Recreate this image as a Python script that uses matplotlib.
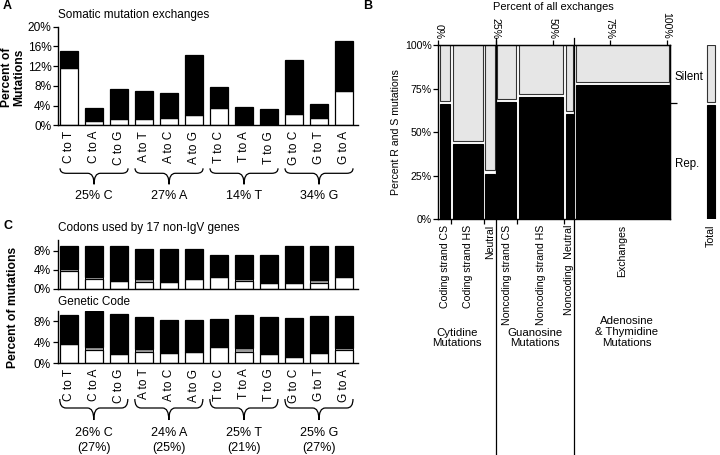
import matplotlib
matplotlib.use('Agg')
import matplotlib.pyplot as plt
import numpy as np
from matplotlib.path import Path
from matplotlib.patches import PathPatch
from matplotlib.transforms import blended_transform_factory

plt.rcParams['font.family'] = ['Liberation Sans', 'DejaVu Sans']

# ---------------- data ----------------
exchanges = ['C to T', 'C to A', 'C to G', 'A to T', 'A to C', 'A to G',
             'T to C', 'T to A', 'T to G', 'G to C', 'G to T', 'G to A']

# Panel A: somatic mutation exchanges (% of mutations)
somatic_total = [15.1, 3.5, 7.3, 6.9, 6.5, 14.3, 7.8, 3.65, 3.4, 13.2, 4.3, 17.2]
somatic_silent = [11.6, 0.9, 1.3, 1.3, 1.5, 2.0, 3.6, 0.3, 0.3, 2.2, 1.5, 7.0]
somatic_groups = ['25% C', '27% A', '14% T', '34% G']
a_yticks = [0, 4, 8, 12, 16, 20]

# Panel C: codons used by 17 non-IgV genes
codon_total = [9.0, 9.0, 9.0, 8.3, 8.3, 8.3, 7.0, 7.0, 7.0, 9.0, 9.0, 9.0]
codon_silent = [3.6, 2.1, 1.6, 1.4, 1.4, 2.0, 2.4, 1.6, 1.2, 1.2, 1.2, 2.4]
codon_gray = [0.6, 0.4, 0.0, 0.6, 0.0, 0.0, 0.0, 0.3, 0.0, 0.0, 0.6, 0.0]

# Panel C: genetic code
gc_total = [9.2, 10.0, 9.4, 8.9, 8.3, 8.3, 8.4, 9.2, 8.9, 8.7, 9.1, 9.1]
gc_silent = [3.6, 2.5, 1.8, 2.1, 1.9, 2.2, 3.0, 2.2, 1.8, 1.2, 1.9, 2.5]
gc_gray = [0.0, 0.6, 0.0, 0.5, 0.0, 0.0, 0.0, 0.6, 0.0, 0.0, 0.0, 0.4]
c_groups = ['26% C\n(27%)', '24% A\n(25%)', '25% T\n(21%)', '25% G\n(27%)']
c_yticks = [0, 4, 8]

# Panel B: mosaic of R and S mutations
b_categories = ['Coding strand CS', 'Coding strand HS', 'Neutral',
                'Noncoding strand CS', 'Noncoding strand HS', 'Noncoding  Neutral',
                'Exchanges']
b_widths = [5.6, 14.4, 5.2, 9.3, 20.7, 4.4, 41.9]
b_rep = [67, 44, 27, 68, 71, 61, 78]
b_group_sizes = [3, 3, 1]
b_groups = ['Cytidine\nMutations', 'Guanosine\nMutations',
            'Adenosine\n& Thymidine\nMutations']
b_xticks = [0, 25, 50, 75, 100]
b_yticks = [0, 25, 50, 75, 100]
total_rep = 66.5

# ---------------- figure ----------------
W, H = 720, 455
fig = plt.figure(figsize=(W / 100, H / 100), dpi=100)


def px_axes(x0, y0, x1, y1):
    return fig.add_axes([x0 / W, 1 - y1 / H, (x1 - x0) / W, (y1 - y0) / H])


def pct(v):
    return [f'{t}%' for t in v]


def brace(ax, x0, x1, yt, ym, yb, r=0.25):
    xc = (x0 + x1) / 2
    verts = [(x0, yt), (x0, ym), (x0 + r, ym), (xc - r, ym), (xc, ym), (xc, yb),
             (xc, ym), (xc + r, ym), (x1 - r, ym), (x1, ym), (x1, yt)]
    codes = [Path.MOVETO, Path.CURVE3, Path.CURVE3, Path.LINETO, Path.CURVE3,
             Path.CURVE3, Path.CURVE3, Path.CURVE3, Path.LINETO, Path.CURVE3,
             Path.CURVE3]
    tr = blended_transform_factory(ax.transData, ax.transAxes)
    ax.add_patch(PathPatch(Path(verts, codes), fill=False, lw=0.9,
                           transform=tr, clip_on=False))


x = np.arange(len(exchanges))
bw = 0.72
TS = 8.6

# ---------------- Panel A ----------------
axA = px_axes(58.3, 26.7, 358, 125.3)
st = np.array(somatic_total)
ss = np.array(somatic_silent)
axA.bar(x, ss, width=bw, color='white', edgecolor='black', lw=0.9)
axA.bar(x, st - ss, bottom=ss, width=bw, color='black', edgecolor='black', lw=0.9)
axA.set_xlim(-0.43, 11.56)
axA.set_ylim(0, 20)
axA.set_yticks(a_yticks, pct(a_yticks))
axA.set_xticks(x, exchanges)
axA.tick_params(axis='x', length=0, labelrotation=90, labelsize=TS, pad=4)
axA.tick_params(axis='y', length=3.5, width=0.9, labelsize=TS, pad=1.5)
for s in ['top', 'right']:
    axA.spines[s].set_visible(False)
for s in ['left', 'bottom']:
    axA.spines[s].set_linewidth(1.0)
hA = 98.6
trA = blended_transform_factory(axA.transData, axA.transAxes)
for g, lab in enumerate(somatic_groups):
    i0, i1 = 3 * g, 3 * g + 2
    brace(axA, i0 - bw / 2, i1 + bw / 2, -43 / hA, -48 / hA, -59 / hA)
    axA.text((i0 + i1) / 2, -71 / hA, lab, transform=trA, ha='center',
             va='center', fontsize=9)
axA.text(-0.43, 1.12, 'Somatic mutation exchanges', transform=trA,
         ha='left', va='center', fontsize=8.5)
fig.text(13 / W, 1 - 77 / H, 'Percent of\nMutations', rotation=90, ha='center',
         va='center', fontweight='bold', fontsize=8.7, linespacing=1.1)
fig.text(3 / W, 1 - 6 / H, 'A', fontweight='bold', fontsize=9, va='center')


# ---------------- Panel C ----------------
def stacked3(ax, total, silent, gray):
    t = np.array(total)
    s = np.array(silent)
    g = np.array(gray)
    ax.bar(x, s, width=bw, color='white', edgecolor='black', lw=0.9)
    ax.bar(x, g, bottom=s, width=bw, color='#9a9a9a', edgecolor='black', lw=0.7)
    ax.bar(x, t - s - g, bottom=s + g, width=bw, color='black',
           edgecolor='black', lw=0.9)
    ax.set_xlim(-0.43, 11.56)
    ax.set_yticks(c_yticks, pct(c_yticks))
    ax.tick_params(axis='y', length=3.5, width=0.9, labelsize=TS, pad=1.5)
    for sp in ['top', 'right']:
        ax.spines[sp].set_visible(False)
    for sp in ['left', 'bottom']:
        ax.spines[sp].set_linewidth(1.0)


axC1 = px_axes(58, 240, 358, 288.5)
stacked3(axC1, codon_total, codon_silent, codon_gray)
axC1.set_ylim(0, 48.5 / 4.75)
axC1.set_xticks([])
axC1.text(-0.43, 1 + 12 / 48.5, 'Codons used by 17 non-IgV genes',
          transform=blended_transform_factory(axC1.transData, axC1.transAxes),
          ha='left', va='center', fontsize=8.5)

axC2 = px_axes(58, 311, 358, 363)
stacked3(axC2, gc_total, gc_silent, gc_gray)
axC2.set_ylim(0, 52 / 5.2)
axC2.set_xticks(x, exchanges)
axC2.tick_params(axis='x', length=0, labelrotation=90, labelsize=TS, pad=4)
trC2 = blended_transform_factory(axC2.transData, axC2.transAxes)
axC2.text(-0.43, 1 + 9 / 52, 'Genetic Code', transform=trC2,
          ha='left', va='center', fontsize=8.5)
hC = 52.0
for g, lab in enumerate(c_groups):
    i0, i1 = 3 * g, 3 * g + 2
    brace(axC2, i0 - bw / 2, i1 + bw / 2, -36 / hC, -45 / hC, -57 / hC)
    axC2.text((i0 + i1) / 2, -77.5 / hC, lab, transform=trC2, ha='center',
              va='center', fontsize=9, linespacing=1.25)
fig.text(13 / W, 1 - 307 / H, 'Percent of mutations', rotation=90, ha='center',
         va='center', fontweight='bold', fontsize=8.7)
fig.text(3 / W, 1 - 226 / H, 'C', fontweight='bold', fontsize=9, va='center')

# ---------------- Panel B ----------------
BS = 7.6
axB = px_axes(438.5, 45, 670, 219)
widths = np.array(b_widths)
edges = np.concatenate([[0], np.cumsum(widths)])
lefts = edges[:-1]
centers = lefts + widths / 2
rep = np.array(b_rep, dtype=float)
gx, gy = 0.6, 0.9
axB.bar(lefts + gx, rep - gy, width=widths - 2 * gx, align='edge',
        color='black', edgecolor='black', lw=0.8)
axB.bar(lefts + gx, 100 - rep - gy, bottom=rep + gy, width=widths - 2 * gx,
        align='edge', color='#e6e6e6', edgecolor='#333333', lw=0.8)
axB.set_xlim(0, edges[-1])
axB.set_ylim(0, 100)
axB.set_yticks(b_yticks, pct(b_yticks))
axB.tick_params(axis='y', length=3.5, width=0.9, labelsize=BS, pad=1.5)
group_ends = np.cumsum(b_group_sizes)
inner = [edges[i] for i in range(1, len(widths)) if i not in group_ends]
axB.set_xticks(inner, [''] * len(inner))
axB.set_xticks(centers, b_categories, minor=True)
axB.tick_params(axis='x', which='major', length=3.5, width=0.9)
axB.tick_params(axis='x', which='minor', length=0, labelrotation=90,
                labelsize=BS, pad=4)
for sp in axB.spines.values():
    sp.set_linewidth(1.0)
trB = blended_transform_factory(axB.transData, axB.transAxes)
for gi in group_ends[:-1]:
    axB.plot([edges[gi], edges[gi]], [1.04, -1.36], color='black', lw=0.9,
             transform=trB, clip_on=False)
secx = axB.secondary_xaxis('top')
secx.set_xticks(b_xticks, pct(b_xticks))
secx.tick_params(length=3.5, width=0.9, labelrotation=-90, labelsize=BS, pad=1)
secy = axB.secondary_yaxis('right')
secy.set_yticks([total_rep], [''])
secy.tick_params(length=5, width=0.9)
axB.text(1.02, 0.816, 'Silent', transform=axB.transAxes, ha='left',
         va='center', fontsize=8.3)
axB.text(1.02, 0.316, 'Rep.', transform=axB.transAxes, ha='left',
         va='center', fontsize=8.3)
axB.set_ylabel('Percent R and S mutations', fontsize=BS, labelpad=3)
fig.text(553 / W, 1 - 7 / H, 'Percent of all exchanges', ha='center',
         va='center', fontsize=BS + 0.3)
fig.text(363 / W, 1 - 6 / H, 'B', fontweight='bold', fontsize=9, va='center')
for lab, (px, py) in zip(b_groups, [(457, 338), (535, 338), (627, 332)]):
    fig.text(px / W, 1 - py / H, lab, ha='center', va='center', fontsize=8.2,
             linespacing=1.1)

# Total bar
axT = px_axes(705, 45, 717, 219)
axT.bar([0], [total_rep - gy], width=0.66, color='black', edgecolor='black', lw=0.8)
axT.bar([0], [100 - total_rep - gy], bottom=total_rep + gy, width=0.66,
        color='#e6e6e6', edgecolor='#333333', lw=0.8)
axT.set_xlim(-0.5, 0.5)
axT.set_ylim(0, 100)
axT.set_yticks([])
axT.set_xticks([0], ['Total'])
axT.tick_params(axis='x', length=0, labelrotation=90, labelsize=BS, pad=4)
for sp in axT.spines.values():
    sp.set_visible(False)

fig.savefig('out.png', dpi=100)
